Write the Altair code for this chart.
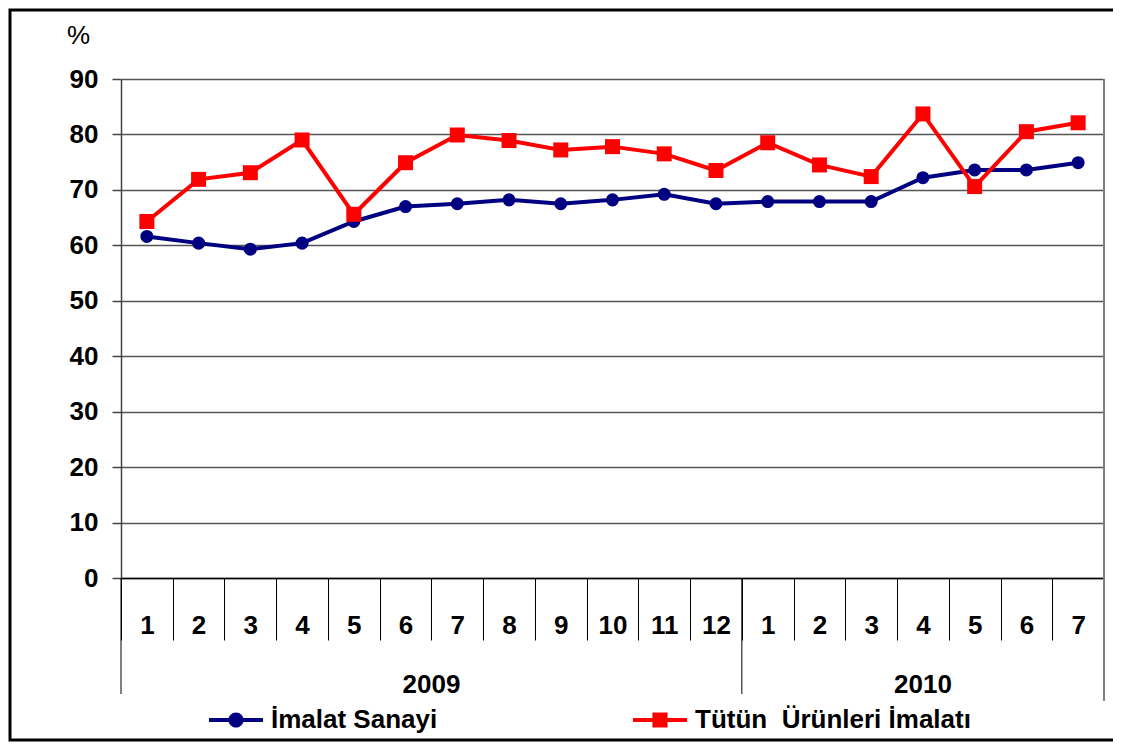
import altair as alt
import pandas as pd

# ---- data ----
years = [2009] * 12 + [2010] * 7
months = list(range(1, 13)) + list(range(1, 8))
imalat = [61.6, 60.4, 59.3, 60.4, 64.3, 67.0, 67.5, 68.2, 67.5, 68.2, 69.2, 67.5,
          67.9, 67.9, 67.9, 72.2, 73.6, 73.6, 74.9]
tutun = [64.3, 71.9, 73.1, 79.0, 65.6, 74.9, 79.9, 78.9, 77.2, 77.8, 76.5, 73.5,
         78.5, 74.5, 72.4, 83.7, 70.6, 80.5, 82.1]
series_names = ["İmalat Sanayi", "Tütün  Ürünleri İmalatı"]
series_colors = ["#000080", "#FF0000"]
y_ticks = [0, 10, 20, 30, 40, 50, 60, 70, 80, 90]

FONT = "Liberation Sans"
FS = 26

periods = [f"{y}-{m}" for y, m in zip(years, months)]
rows = []
for p, a, b in zip(periods, imalat, tutun):
    rows.append({"period": p, "series": series_names[0], "value": a})
    rows.append({"period": p, "series": series_names[1], "value": b})
df = pd.DataFrame(rows)

W, H = 983, 499

xscale = alt.Scale(domain=periods, paddingInner=0, paddingOuter=0)
yscale = alt.Scale(domain=[0, 90], nice=False, zero=True)
# colour scale for the data marks (domain from data, ordered like series_names)
cscale = alt.Scale(range=series_colors)

x_axis = alt.Axis(
    title=None, labelExpr="split(datum.value, '-')[1]", tickBand="extent",
    tickSize=62, tickColor="#000000", tickWidth=1, domainColor="#000000",
    domainWidth=1.5, labelFont=FONT, labelFontSize=FS, labelFontWeight="bold",
    labelColor="#000000", labelAngle=0, labelAlign="center", labelBaseline="middle",
    labelPadding=-15, grid=False,
)
y_axis = alt.Axis(
    values=y_ticks, title="%", titleAngle=0, titleX=-43, titleY=-44,
    titleAlign="center", titleBaseline="middle", titleFont=FONT, titleFontSize=FS,
    titleFontWeight="normal", titleColor="#000000",
    labelFont=FONT, labelFontSize=FS, labelFontWeight="bold", labelColor="#000000",
    labelPadding=14, tickSize=9, tickColor="#444444", tickWidth=1.5,
    domainColor="#444444", domainWidth=1.5, grid=True, gridColor="#555555",
    gridWidth=1.5,
)

base = alt.Chart(df)

lines = base.mark_line(strokeWidth=4).encode(
    x=alt.X("period:O", scale=xscale, axis=x_axis, sort=periods),
    y=alt.Y("value:Q", scale=yscale, axis=y_axis),
    color=alt.Color("series:N", sort=series_names, scale=cscale, legend=None),
    detail="series:N",
)

pts_circle = base.transform_filter(alt.datum.series == series_names[0]).mark_point(
    filled=True, shape="circle", size=170, opacity=1
).encode(
    x=alt.X("period:O", sort=periods), y="value:Q",
    color=alt.Color("series:N", sort=series_names, scale=cscale, legend=None),
)
pts_square = base.transform_filter(alt.datum.series == series_names[1]).mark_point(
    filled=True, shape="square", size=225, opacity=1
).encode(
    x=alt.X("period:O", sort=periods), y="value:Q",
    color=alt.Color("series:N", sort=series_names, scale=cscale, legend=None),
)

# legend-only layer: its own marks sit off-canvas, only the legend shows
path_circle = ("M-1,-0.075H1V0.075H-1Z "
               "M0.28,0A0.28,0.28,0,1,1,-0.28,0A0.28,0.28,0,1,1,0.28,0Z")
path_square = "M-1,-0.075H1V0.075H-1Z M-0.28,-0.28H0.28V0.28H-0.28Z"
leg_props = dict(
    title=None, orient="none", legendX=88, legendY=614,
    direction="horizontal", columns=2, columnPadding=195,
    symbolSize=2916, labelOffset=8, symbolStrokeWidth=0, symbolOpacity=1,
    labelFont=FONT, labelFontSize=FS, labelFontWeight="bold",
    labelColor="#000000", labelLimit=1000,
    labelExpr="replace(datum.label, '  ', '\u00a0 ')",
)
legend_layer = base.mark_point(filled=True, size=10, opacity=1).encode(
    x=alt.value(-2000), y=alt.value(-2000),
    fill=alt.Fill("series:N",
                  scale=alt.Scale(domain=series_names, range=series_colors),
                  legend=alt.Legend(**leg_props)),
    shape=alt.Shape("series:N",
                    scale=alt.Scale(domain=series_names, range=[path_circle, path_square]),
                    legend=alt.Legend(**leg_props)),
)

# category separators extending below the axis (year groups)
first_of_year = []
last_of_year = []
for i, p in enumerate(periods):
    if i == 0 or years[i] != years[i - 1]:
        first_of_year.append(p)
    if i == len(periods) - 1:
        last_of_year.append(p)
sep_df = pd.DataFrame({"period": first_of_year})
seps = alt.Chart(sep_df).mark_rule(color="#000000", strokeWidth=1).encode(
    x=alt.X("period:O", sort=periods, bandPosition=0),
    y=alt.value(H), y2=alt.value(H + 116),
)
right_df = pd.DataFrame({"period": last_of_year})
right_border = alt.Chart(right_df).mark_rule(color="#808080", strokeWidth=2).encode(
    x=alt.X("period:O", sort=periods, bandPosition=1),
    y=alt.value(0), y2=alt.value(H + 123),
)

# year labels centred under their months
year_layers = []
for yv in sorted(set(years)):
    idxs = [i for i, y in enumerate(years) if y == yv]
    n = len(idxs)
    anchor = periods[idxs[0] + n // 2]
    bp = 0 if n % 2 == 0 else 0.5
    ydf = pd.DataFrame({"period": [anchor], "label": [str(yv)]})
    year_layers.append(
        alt.Chart(ydf).mark_text(font=FONT, fontSize=FS, fontWeight="bold",
                                 color="#000000", baseline="middle", align="center").encode(
            x=alt.X("period:O", sort=periods, bandPosition=bp),
            y=alt.value(H + 107), text="label:N",
        )
    )

frame = alt.Chart(pd.DataFrame({"a": [0]})).mark_rect(
    fill=None, stroke="#000000", strokeWidth=3
).encode(
    x=alt.value(-111), x2=alt.value(W + 20), y=alt.value(-69), y2=alt.value(H + 162),
)

chart = alt.layer(
    frame, seps, right_border, lines, pts_circle, pts_square, legend_layer, *year_layers
).properties(
    width=W, height=H,
    autosize=alt.AutoSizeParams(type="none"),
    padding={"left": 113, "top": 71, "right": 9, "bottom": 165},
).configure(background="#ffffff").configure_view(stroke=None)

chart.save("out.html", embed_options={"renderer": "svg", "actions": False})
